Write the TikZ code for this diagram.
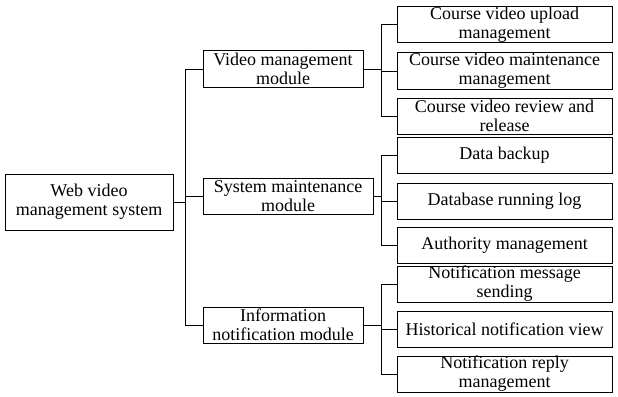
\documentclass[tikz,border=0pt]{standalone}
\usepackage{fontspec}
\setmainfont{Liberation Serif}
\tikzset{
	box/.style={draw, rectangle, line width=1pt, inner sep=0pt, align=center, minimum height=36pt, font=\fontsize{18}{19}\selectfont},
	leafbox/.style={box, minimum width=215pt},
	link/.style={line width=1pt}
}
\begin{document}
\begin{tikzpicture}[x=1pt, y=-1pt]
			\useasboundingbox (0,0) rectangle (618,396);
			\node[box, minimum width=168pt, minimum height=56pt] (web) at (89,202) {Web video\\management system};
			
			\node[box, minimum width=160pt] (video) at (283,69) {Video management\\module};
			\node[box, minimum width=170pt] (sys) at (288,196) {System maintenance\\module};
			\node[box, minimum width=160pt] (info) at (283,325) {Information\\notification module};
			
			\node[leafbox] (upload) at (504.5,25) {Course video upload\\management};
			\node[leafbox] (maint) at (504.5,71) {Course video maintenance\\management};
			\node[leafbox] (review) at (504.5,116) {Course video review and\\release};
			
			\node[leafbox] (backup) at (504.5,155) {Data backup};
			\node[leafbox] (dblog) at (504.5,201) {Database running log};
			\node[leafbox] (auth) at (504.5,245.5) {Authority management};
			
			\node[leafbox] (send) at (504.5,284) {Notification message\\sending};
			\node[leafbox] (hist) at (504.5,329.5) {Historical notification view};
			\node[leafbox] (reply) at (504.5,374) {Notification reply\\management};
			
			\coordinate (busA) at (185,0);
			\coordinate (busB) at (381,0);
			
			\draw[link] (web.east) -- (web.east -| busA);
			\draw[link] (video.west) -| (busA |- info.west) -- (info.west);
			\draw[link] (sys.west) -- (sys.west -| busA);
			
			\draw[link] (video.east) -- (video.east -| busB);
			\draw[link] (upload.west) -| (busB |- review.west) -- (review.west);
			\draw[link] (maint.west) -- (maint.west -| busB);
			
			\draw[link] (sys.east) -- (sys.east -| busB);
			\draw[link] (backup.west) -| (busB |- auth.west) -- (auth.west);
			\draw[link] (dblog.west) -- (dblog.west -| busB);
			
			\draw[link] (info.east) -- (info.east -| busB);
			\draw[link] (send.west) -| (busB |- reply.west) -- (reply.west);
			\draw[link] (hist.west) -- (hist.west -| busB);
			
		\end{tikzpicture}
\end{document}
